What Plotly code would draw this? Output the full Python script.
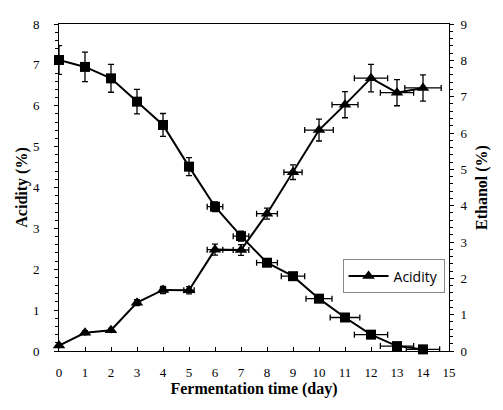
import plotly.graph_objects as go

days = list(range(15))
acidity = [7.12, 6.95, 6.67, 6.1, 5.53, 4.51, 3.53, 2.81, 2.16, 1.83, 1.28, 0.82, 0.4, 0.12, 0.04]
acidity_err_y = [0.35, 0.36, 0.34, 0.3, 0.28, 0.22, 0.12, 0.12, 0.05, 0.04, 0.04, 0.04, 0.04, 0.03, 0.03]
acidity_err_x = [0, 0, 0, 0, 0, 0, 0.3, 0.3, 0.4, 0.45, 0.5, 0.57, 0.64, 0.64, 0.64]
ethanol = [0.15, 0.5, 0.57, 1.33, 1.68, 1.67, 2.79, 2.78, 3.78, 4.92, 6.08, 6.78, 7.51, 7.11, 7.24]
ethanol_err_y = [0.05, 0.05, 0.05, 0.08, 0.1, 0.1, 0.15, 0.15, 0.15, 0.2, 0.3, 0.36, 0.38, 0.36, 0.36]
ethanol_err_x = [0, 0, 0, 0, 0.1, 0.2, 0.3, 0.3, 0.4, 0.35, 0.55, 0.5, 0.64, 0.64, 0.7]
x_ticks = list(range(16))

serif = "Liberation Serif, Times New Roman, serif"
fig = go.Figure()
fig.add_trace(go.Scatter(
    x=days, y=acidity, mode="lines+markers", name="Acidity (%)", showlegend=False,
    line=dict(color="black", width=2),
    marker=dict(symbol="square", size=10, color="black"),
    error_y=dict(type="data", array=acidity_err_y, color="black", thickness=1.3, width=3),
    error_x=dict(type="data", array=acidity_err_x, color="black", thickness=1.3, width=3),
    cliponaxis=False, yaxis="y"))
fig.add_trace(go.Scatter(
    x=days, y=ethanol, mode="lines+markers", name="Acidity", showlegend=True,
    line=dict(color="black", width=2),
    marker=dict(symbol="triangle-up", size=11, color="black"),
    error_y=dict(type="data", array=ethanol_err_y, color="black", thickness=1.3, width=3),
    error_x=dict(type="data", array=ethanol_err_x, color="black", thickness=1.3, width=3),
    cliponaxis=False, yaxis="y2"))

tickfont = dict(family=serif, size=13, color="black")
titlefont = dict(family=serif, size=16, color="black", weight="bold")

fig.update_layout(
    width=503, height=410,
    font=dict(family=serif, size=13, color="black"),
    margin=dict(l=51, r=62, t=9, b=67),
    plot_bgcolor="white", paper_bgcolor="white",
    showlegend=True,
    legend=dict(x=0.727, y=0.28, xanchor="left", yanchor="top",
                bordercolor="#888888", borderwidth=1, bgcolor="white",
                font=dict(family="Open Sans", size=14, color="black"),
                itemwidth=40, tracegroupgap=0),
    xaxis=dict(range=[0, 15], tickvals=x_ticks, ticktext=[str(v) for v in x_ticks],
               ticks="inside", ticklen=4, tickcolor="black", showline=True, linecolor="black",
               linewidth=1, mirror=True, showgrid=False, zeroline=False,
               tickfont=tickfont, ticklabelstandoff=9,
               title=dict(text="Fermentation time (day)", font=titlefont, standoff=4)),
    yaxis=dict(range=[0, 8], dtick=1, ticks="outside", ticklen=4, tickcolor="black",
               minor=dict(dtick=0.2, ticks="outside", ticklen=3, tickcolor="black"),
               showline=True, linecolor="black", linewidth=1, showgrid=False, zeroline=False,
               tickfont=tickfont, ticklabelstandoff=12,
               title=dict(text="Acidity (%)", font=titlefont, standoff=1)),
    yaxis2=dict(range=[0, 9], dtick=1, overlaying="y", side="right", anchor="x",
                ticks="outside", ticklen=4, tickcolor="black",
                minor=dict(dtick=0.2, ticks="outside", ticklen=3, tickcolor="black"),
                showline=True, linecolor="black", linewidth=1, showgrid=False, zeroline=False,
                tickfont=tickfont, ticklabelstandoff=4,
                title=dict(text="Ethanol (%)", font=titlefont, standoff=9)),
    yaxis3=dict(range=[0, 8], dtick=1, overlaying="y", side="left", anchor="x",
                ticks="inside", ticklen=4, tickcolor="black",
                minor=dict(dtick=0.2, ticks="inside", ticklen=3, tickcolor="black"),
                showticklabels=False, showgrid=False, zeroline=False, showline=False),
    yaxis4=dict(range=[0, 9], dtick=1, overlaying="y", side="right", anchor="x",
                ticks="inside", ticklen=4, tickcolor="black",
                minor=dict(dtick=0.2, ticks="inside", ticklen=3, tickcolor="black"),
                showticklabels=False, showgrid=False, zeroline=False, showline=False),
)
fig.write_html("out.html")
